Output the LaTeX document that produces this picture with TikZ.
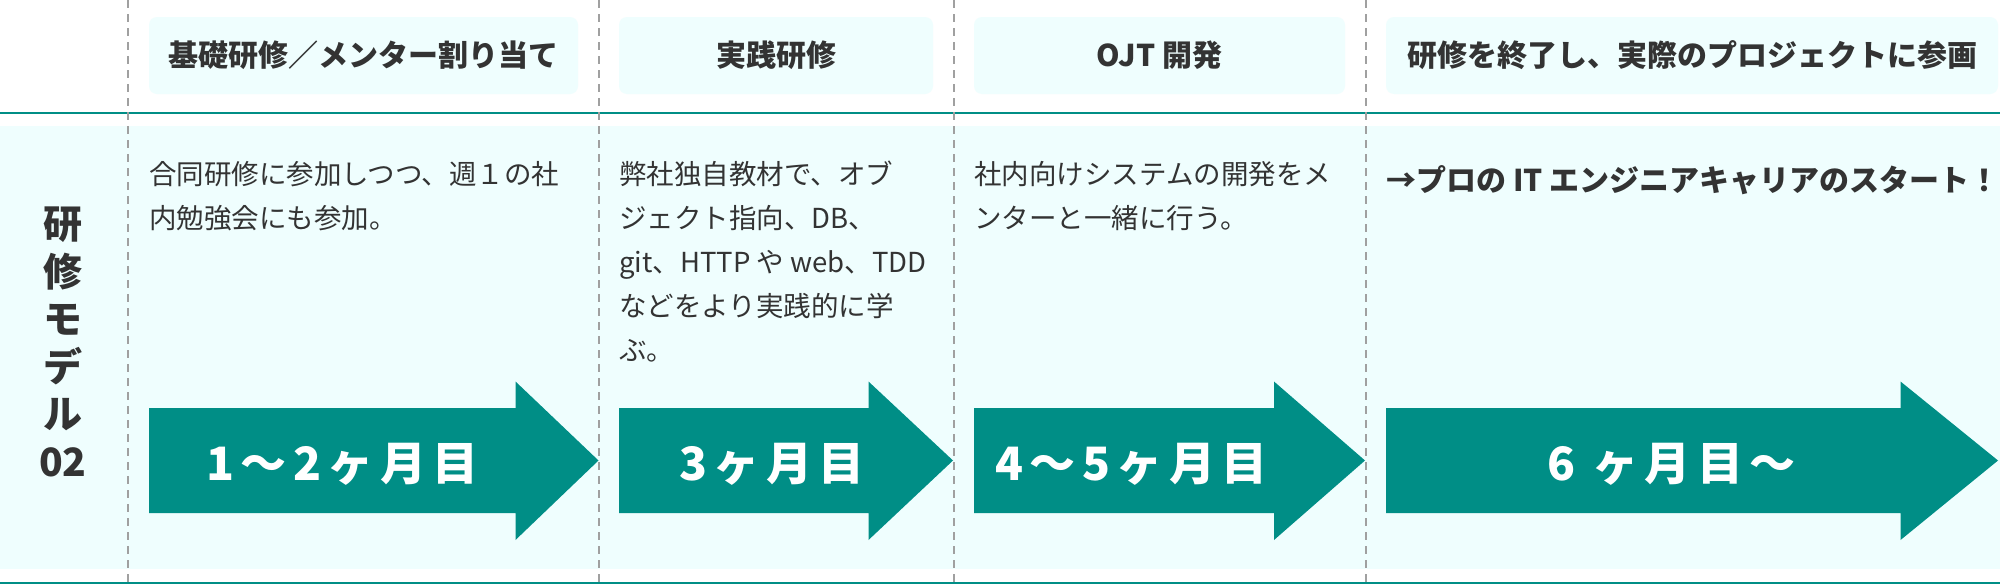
\documentclass[tikz,border=0pt]{standalone}
\usepackage{fontspec}
\setmainfont{Noto Sans CJK JP}
\definecolor{teal0}{HTML}{008E86}
\definecolor{panel}{HTML}{EFFEFE}
\definecolor{ink}{HTML}{333333}
\definecolor{rule}{HTML}{A0A0A0}
\begin{document}
\begin{tikzpicture}[x=0.5pt,y=-0.5pt,
  head/.style={font=\fontsize{15pt}{18pt}\bfseries\selectfont,text=ink,inner sep=0},
  body/.style={font=\fontsize{13.75pt}{22pt}\selectfont,text=ink,align=left,anchor=north west,inner sep=0},
  phase/.style={font=\fontsize{23pt}{28pt}\bfseries\selectfont\addfontfeature{LetterSpace=14},text=white,anchor=west,inner sep=0},
  divider/.style={rule,line width=1pt,dash pattern=on 4pt off 3pt}]
\useasboundingbox (0,0) rectangle (2000,584);
\fill[white] (0,0) rectangle (2000,584);
% body band and rules
\fill[panel] (0,126) rectangle (2000,569);
\draw[teal0,line width=1pt] (0,113) -- (2000,113);
\draw[teal0,line width=1.25pt] (0,582.8) -- (2000,582.8);
% column heads
\fill[panel,rounded corners=4pt] (149,17) rectangle (578,94);
\fill[panel,rounded corners=4pt] (619,17) rectangle (933,94);
\fill[panel,rounded corners=4pt] (974,17) rectangle (1345,94);
\fill[panel,rounded corners=4pt] (1386,17) rectangle (1998,94);
\node[head] (h1) at (363.5,55.5) {基礎研修／メンター割り当て};
\node[head] (h2) at (776,55.5) {実践研修};
\node[head] (h3) at (1159.5,55.5) {OJT 開発};
\node[head] (h4) at (1692,55.5) {研修を終了し、実際のプロジェクトに参画};
% row label
\node[font=\fontsize{19.5pt}{23.8pt}\bfseries\selectfont,text=ink,align=center,inner sep=0] (model) at (63,342) {研\\修\\モ\\デ\\ル\\02};
% descriptions
\node[body] (d1) at (149,161) {合同研修に参加しつつ、週１の社\\内勉強会にも参加。};
\node[body] (d2) at (619,161) {弊社独自教材で、オブ\\ジェクト指向、DB、\\git、HTTP や web、TDD\\などをより実践的に学\\ぶ。};
\node[body] (d3) at (974,161) {社内向けシステムの開発をメ\\ンターと一緒に行う。};
\node[head,anchor=west] (d4) at (1386,180) {→プロの IT エンジニアキャリアのスタート！};
% phase arrows
\fill[teal0] (149,408) -- (515.5,408) -- (515.5,381.5) -- (598.5,460.5) -- (515.5,540) -- (515.5,513) -- (149,513) -- cycle;
\fill[teal0] (619,408) -- (868.5,408) -- (868.5,381.5) -- (953,460.5) -- (868.5,540) -- (868.5,513) -- (619,513) -- cycle;
\fill[teal0] (974,408) -- (1274,408) -- (1274,381.5) -- (1365,460.5) -- (1274,540) -- (1274,513) -- (974,513) -- cycle;
\fill[teal0] (1386,408) -- (1900.5,408) -- (1900.5,381.5) -- (1998,460.5) -- (1900.5,540) -- (1900.5,513) -- (1386,513) -- cycle;
\node[phase] (p1) at (206,464) {1〜2ヶ月目};
\node[phase] (p2) at (679,464) {3ヶ月目};
\node[phase] (p3) at (995,464) {4〜5ヶ月目};
\node[phase] (p4) at (1547,464) {6 ヶ月目〜};
% column dividers
\draw[divider] (127.5,0) -- (127.5,584);
\draw[divider] (599,0) -- (599,584);
\draw[divider] (953.5,0) -- (953.5,584);
\draw[divider] (1365.5,0) -- (1365.5,584);
\end{tikzpicture}
\end{document}
